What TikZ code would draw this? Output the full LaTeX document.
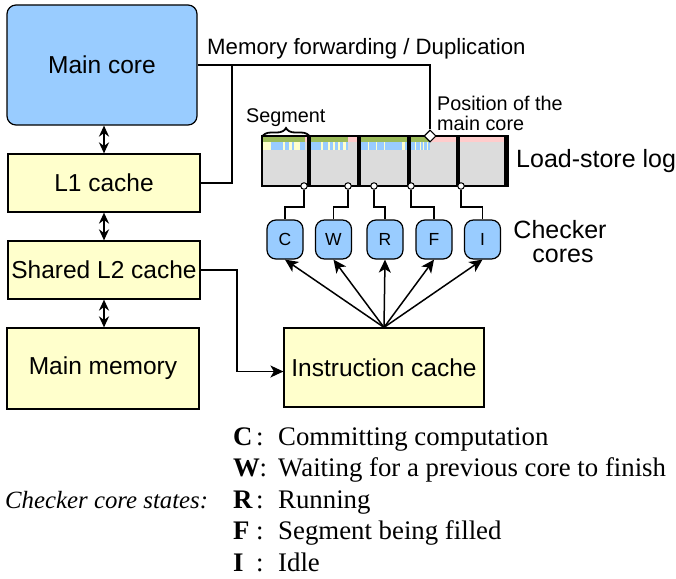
\documentclass[tikz,border=0pt]{standalone}
\usepackage{fontspec}
\setmainfont{Liberation Sans}
\newfontfamily\legendfont{Liberation Serif}
\usetikzlibrary{arrows.meta,decorations.pathreplacing,shapes.geometric}

\definecolor{coreblue}{HTML}{99CCFF}
\definecolor{cacheyellow}{HTML}{FFFFCC}
\definecolor{loggrey}{HTML}{DCDCDC}
\definecolor{loggreen}{HTML}{9BBB59}
\definecolor{logpink}{HTML}{FFCCCC}
\definecolor{logblue}{HTML}{99CCFF}
\definecolor{logyellow}{HTML}{FFFFCC}

\begin{document}
\begin{tikzpicture}[x=1pt,y=-1pt,
  unitbox/.style={draw, line width=1.2pt, inner sep=0pt,
    font=\fontsize{24.5}{28}\selectfont},
  cachebox/.style={unitbox, fill=cacheyellow},
  corebox/.style={unitbox, fill=coreblue, rounded corners=9pt},
  checkbox/.style={draw, line width=1.2pt, fill=coreblue, rounded corners=9pt,
    minimum width=36pt, minimum height=39pt, inner sep=0pt,
    font=\fontsize{17.5}{20}\selectfont},
  link/.style={line width=1.3pt},
  biarrow/.style={line width=1.8pt,
    {Stealth[length=11pt,width=10pt]}-{Stealth[length=11pt,width=10pt]}},
  feed/.style={line width=1.5pt, -{Stealth[length=13pt,width=12pt,inset=3.5pt]}},
  tap/.style={circle, draw, line width=1pt, fill=white, inner sep=0pt,
    minimum size=6.5pt},
  labeltext/.style={inner sep=0pt, font=\fontsize{25}{28}\selectfont},
  smalltext/.style={inner sep=0pt, font=\fontsize{19.8}{22}\selectfont},
  legendtext/.style={inner sep=0pt, font=\legendfont\fontsize{26.8}{30}\selectfont},
]
\useasboundingbox (0,0) rectangle (676,578);

% ---------- memory hierarchy of the main core ----------
\node[corebox, minimum width=190pt, minimum height=120pt] (maincore) at (102,65) {Main core};
\node[cachebox, minimum width=192pt, minimum height=58pt] (l1) at (104,183) {L1 cache};
\node[cachebox, minimum width=192pt, minimum height=58pt] (l2) at (104,270) {Shared L2 cache};
\node[cachebox, minimum width=192pt, minimum height=81pt] (mem) at (103,368.5) {Main memory};

\draw[biarrow] (maincore.south -| 104,0) -- (l1.north);
\draw[biarrow] (l1.south) -- (l2.north);
\draw[biarrow] (l2.south) -- (l2.south |- mem.north);

% ---------- instruction cache ----------
\node[cachebox, minimum width=200pt, minimum height=79pt] (icache) at (384,367.5) {Instruction cache};

% ---------- load-store log ----------
\fill[loggrey] (262,136) rectangle (507,186);
% segment 1
\fill[loggreen] (262,136) rectangle (305,142);
\fill[logpink] (305,136) rectangle (307,142);
\fill[logblue] (262,142) rectangle (305,149.5);
\foreach \a/\b in {263/271, 283/285, 289/292, 294/300}
  \fill[logyellow] (\a,142) rectangle (\b,149.5);
% segment 2
\fill[loggreen] (311,136) rectangle (348,142);
\fill[logpink] (348,136) rectangle (357,142);
\fill[logblue] (311,142) rectangle (348,149.5);
\foreach \a/\b in {321/323, 328/330, 333/335, 338/339.5, 343/346}
  \fill[logyellow] (\a,142) rectangle (\b,149.5);
% segment 3
\fill[loggreen] (361,136) rectangle (407,142);
\fill[logblue] (361,142) rectangle (407,149.5);
\foreach \a/\b in {368/369, 376/377, 384/385, 402/405}
  \fill[logyellow] (\a,142) rectangle (\b,149.5);
% segment 4
\fill[loggreen] (411,136) rectangle (430,142);
\fill[logpink] (430,136) rectangle (456,142);
\fill[logblue] (411,142) rectangle (430,149.5);
\foreach \a/\b in {415/416, 420/421, 423/424, 427/428}
  \fill[logyellow] (\a,142) rectangle (\b,149.5);
% segment 5
\fill[logpink] (460,136) rectangle (505,142);
% outline and segment separators
\draw[line width=1.2pt] (262,136) rectangle (507,186);
\foreach \a/\b in {307/311, 357/361, 407/411, 456/460, 504/509}
  \fill[black] (\a,135.4) rectangle (\b,186.6);

\node[labeltext, anchor=west] (logname) at (516,161) {Load-store log};

% segment brace
\draw[decorate, decoration={brace, amplitude=9pt}, line width=1.8pt]
  (262,137) -- (310,137);
\node[smalltext, anchor=base west] (seglabel) at (246,122) {Segment};

% ---------- forwarding paths ----------
\node[diamond, draw, fill=white, line width=1.1pt, minimum size=12pt, inner sep=0pt]
  (mainpos) at (430,136) {};
\coordinate (fwdjoin) at (232,65);
\draw[link] (maincore.east) -- (430,65) -- (mainpos.north);
\draw[link] (l1.east) -| (fwdjoin);
\node[font=\fontsize{22.2}{25}\selectfont, inner sep=0pt, anchor=base west]
  (fwdlabel) at (207,55) {Memory forwarding / Duplication};
\node[smalltext, anchor=base west] (poslabel1) at (437,110.5) {Position of the};
\node[smalltext, anchor=base west] (poslabel2) at (437,130.5) {main core};

\draw[feed] (l2.east) -- (237,270) |- ([yshift=-4pt]icache.west);

% ---------- checker cores ----------
\node[checkbox] (chkC) at (285,239.5) {C};
\node[checkbox] (chkW) at (333.5,239.5) {W};
\node[checkbox] (chkR) at (385,239.5) {R};
\node[checkbox] (chkF) at (434,239.5) {F};
\node[checkbox] (chkI) at (482.5,239.5) {I};

\node[labeltext, anchor=base] (chklabel1) at (560,238) {Checker};
\node[labeltext, anchor=base] (chklabel2) at (563,262) {cores};

\foreach \x/\n in {304/C, 348/W, 374/R, 411/F, 461/I}{
  \node[tap] (tap\n) at (\x,186) {};
  \draw[link] (tap\n) -- ++(0,21) -| (chk\n.north);
  \draw[feed] (icache.north) -- (chk\n.south);
}

% ---------- legend ----------
\node[legendtext, font=\legendfont\itshape\fontsize{24.8}{28}\selectfont, anchor=base west]
  (legtitle) at (5,508) {Checker core states:};
\foreach \y/\k/\t in {445/C/Committing computation,
                      476/W/Waiting for a previous core to finish,
                      508/R/Running,
                      539/F/Segment being filled,
                      571/I/Idle}{
  \node[legendtext, anchor=base west] (key\k) at (233,\y) {\bfseries \k};
  \node[legendtext, anchor=base west] (text\k) at (278,\y) {\t};
}
\foreach \y/\k in {445/C, 508/R, 539/F, 571/I}
  \node[legendtext, anchor=base west] (colon\k) at (256,\y) {:};
\node[legendtext, anchor=base west] (colonW) at (259.5,476) {:};
\end{tikzpicture}
\end{document}
